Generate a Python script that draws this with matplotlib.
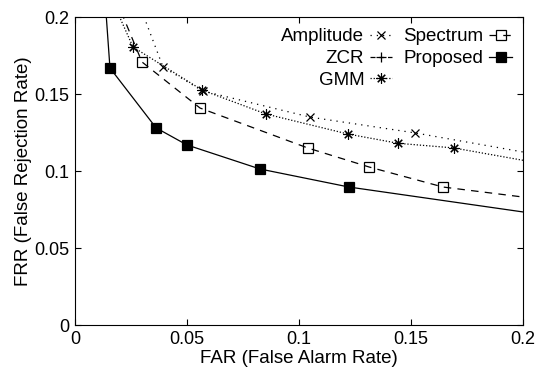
import matplotlib
matplotlib.use('Agg')
import matplotlib.pyplot as plt

plt.rcParams['font.family'] = ['Liberation Sans', 'DejaVu Sans']

# FAR / FRR values (first and last points lie outside the axes)
amp_far = [0.023, 0.0393, 0.057, 0.105, 0.152, 0.25]
amp_frr = [0.23, 0.1675, 0.152, 0.135, 0.1247, 0.0995]

zcr_far = []
zcr_frr = []

gmm_far = [0.0107, 0.0259, 0.0567, 0.0853, 0.1219, 0.1442, 0.169, 0.25]
gmm_frr = [0.23, 0.1805, 0.1526, 0.137, 0.124, 0.118, 0.115, 0.094]

spec_far = [0.013, 0.0299, 0.0558, 0.104, 0.1313, 0.1643, 0.25]
spec_frr = [0.23, 0.1708, 0.1409, 0.1149, 0.1026, 0.0896, 0.074]

prop_far = [0.0125, 0.0156, 0.0362, 0.05, 0.0826, 0.1223, 0.25]
prop_frr = [0.23, 0.1669, 0.128, 0.1169, 0.1013, 0.0896, 0.063]

ticks = [0, 0.05, 0.1, 0.15, 0.2]
tick_labels = ['0', '0.05', '0.1', '0.15', '0.2']

fig = plt.figure(figsize=(5.48, 3.74), dpi=100)
ax = fig.add_axes([0.1369, 0.131, 0.8175, 0.8235])

ax.plot(amp_far, amp_frr, color='black', lw=0.9, ls=(0, (1, 4)),
        marker='x', ms=6, mew=0.9, label='Amplitude')
ax.plot(zcr_far, zcr_frr, color='black', lw=0.9, ls=(0, (4, 3)),
        marker='+', ms=7, mew=0.9, label='ZCR')
ax.plot(gmm_far, gmm_frr, color='black', lw=0.9, ls=(0, (1, 1.5)),
        marker=(8, 2, 0), ms=7.5, mew=0.8, label='GMM')
ax.plot(spec_far, spec_frr, color='black', lw=0.9, ls=(0, (6, 5)),
        marker='s', ms=6.5, mew=0.9, mfc='none', label='Spectrum')
ax.plot(prop_far, prop_frr, color='black', lw=0.9, ls='-',
        marker='s', ms=6.5, mew=0.9, label='Proposed')

ax.set_xlim(0, 0.2)
ax.set_ylim(0, 0.2)
ax.set_xticks(ticks)
ax.set_xticklabels(tick_labels)
ax.set_yticks(ticks)
ax.set_yticklabels(tick_labels)
ax.tick_params(direction='in', length=4, top=True, right=True,
               labelsize=13, pad=4)
ax.set_xlabel('FAR (False Alarm Rate)', fontsize=13.5, labelpad=2)
ax.set_ylabel('FRR (False Rejection Rate)', fontsize=13.5, labelpad=2)

ax.legend(loc='upper right', ncol=2, frameon=False, markerfirst=False,
          fontsize=13.5, handlelength=1.2, handletextpad=0.3,
          columnspacing=0.6, labelspacing=0.25, borderaxespad=0.5,
          borderpad=0.1)

fig.savefig('out.png', dpi=100)
